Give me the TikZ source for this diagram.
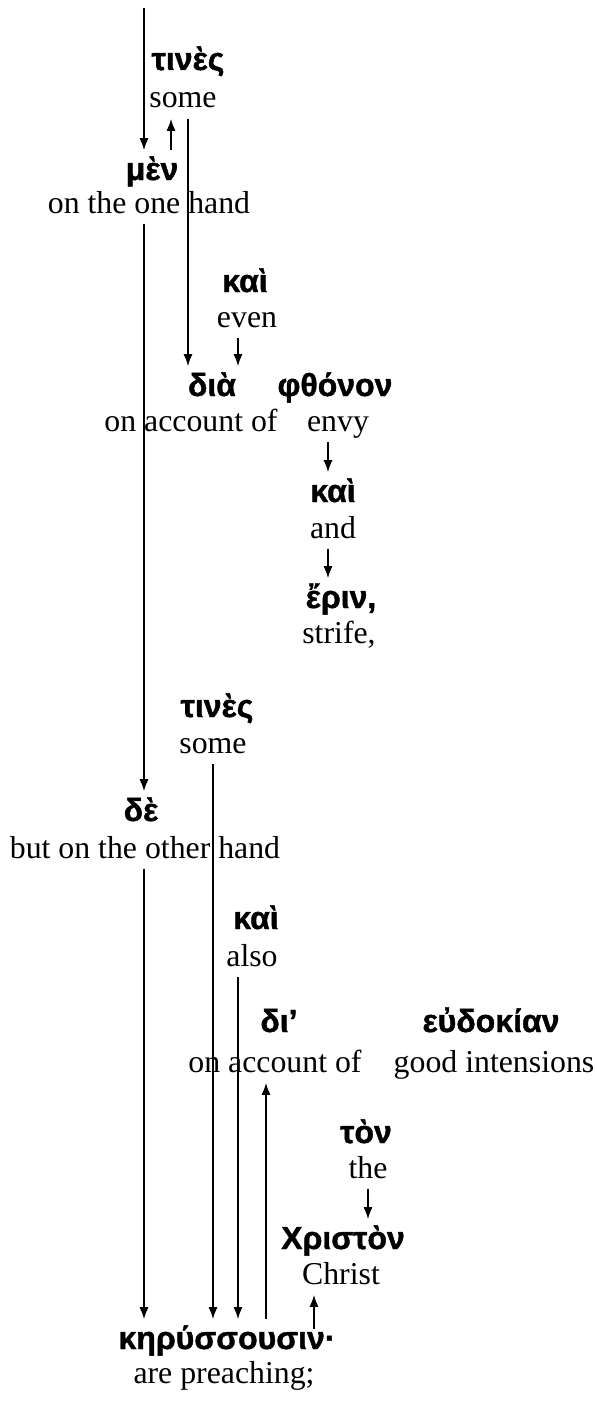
\documentclass[tikz,border=0pt]{standalone}
\usepackage{fontspec}
\setmainfont{Liberation Serif}
\newfontfamily\grk{Liberation Sans}[BoldFeatures={FakeBold=1.3}]
\usetikzlibrary{arrows.meta,calc}

\begin{document}
\begin{tikzpicture}[
  x=0.5pt,y=-0.5pt,
  gk/.style={anchor=base,inner xsep=0pt,inner ysep=4.5pt,text height=10pt,text depth=3pt,font=\grk\bfseries\fontsize{16}{19}\selectfont},
  en/.style={anchor=base,inner xsep=0pt,inner ysep=2pt,text height=11pt,text depth=3pt,font=\fontsize{15.9}{19}\selectfont},
  line width=0.8pt,
  >={Latex[length=6pt,width=4.5pt]}]
\useasboundingbox (0,0) rectangle (596,1402);
\node[gk] (tines1) at (188,70) {τινὲς};
\node[en] (some1) at (183,108) {some};
\node[gk] (men) at (152,180) {μὲν};
\node[en] (onehand) at (149,213) {on the one hand};
\node[gk] (kai1) at (245,292) {καὶ};
\node[en] (even) at (247,327) {even};
\node[gk] (dia) at (212,396) {διὰ};
\node[en] (account1) at (191,431) {on account of};
\node[gk] (phthonon) at (335,396) {φθόνον};
\node[en] (envy) at (338,431) {envy};
\node[gk] (kai2) at (333,502) {καὶ};
\node[en] (and) at (333,538) {and};
\node[gk] (erin) at (341,608) {ἔριν,};
\node[en] (strife) at (339,643) {strife,};
\node[gk] (tines2) at (217,717) {τινὲς};
\node[en] (some2) at (213,753) {some};
\node[gk] (de) at (141,821) {δὲ};
\node[en] (otherhand) at (145,858) {but on the other hand};
\node[gk] (kai3) at (256,929) {καὶ};
\node[en] (also) at (252,966) {also};
\node[gk] (di) at (279,1032) {δι’};
\node[en] (account2) at (275,1072) {on account of};
\node[gk] (eudokian) at (491,1032) {εὐδοκίαν};
\node[en] (good) at (494,1072) {good intensions};
\node[gk] (ton) at (366,1143) {τὸν};
\node[en] (the) at (368,1178) {the};
\node[gk] (christon) at (343,1249) {Χριστὸν};
\node[en] (christ) at (341,1284) {Christ};
\node[gk] (kerussousin) at (227,1349) {κηρύσσουσιν·};
\node[en] (preaching) at (224,1383) {are preaching;};
\coordinate (top) at (144,8);
\draw[->] (top) -- (men.north -| top);
\draw[->] (men.north -| 171,0) -- (some1.south -| 171,0);
\draw[->] (some1.south -| 188,0) -- (dia.north -| 188,0);
\draw[->] (onehand.south -| 144,0) -- (de.north -| 144,0);
\draw[->] (even.south -| 238,0) -- (dia.north -| 238,0);
\draw[->] (envy.south -| 328,0) -- (kai2.north -| 328,0);
\draw[->] (and.south -| 328,0) -- (erin.north -| 328,0);
\draw[->] (some2.south -| 213,0) -- (kerussousin.north -| 213,0);
\draw[->] (otherhand.south -| 144,0) -- (kerussousin.north -| 144,0);
\draw[->] (also.south -| 238,0) -- (kerussousin.north -| 238,0);
\draw[->] (kerussousin.north -| 266,0) -- (account2.south -| 266,0);
\draw[->] (the.south -| 368,0) -- (christon.north -| 368,0);
\draw[->] ($(kerussousin.north -| 314,0)+(0,10)$) -- (christ.south -| 314,0);
\end{tikzpicture}
\end{document}
